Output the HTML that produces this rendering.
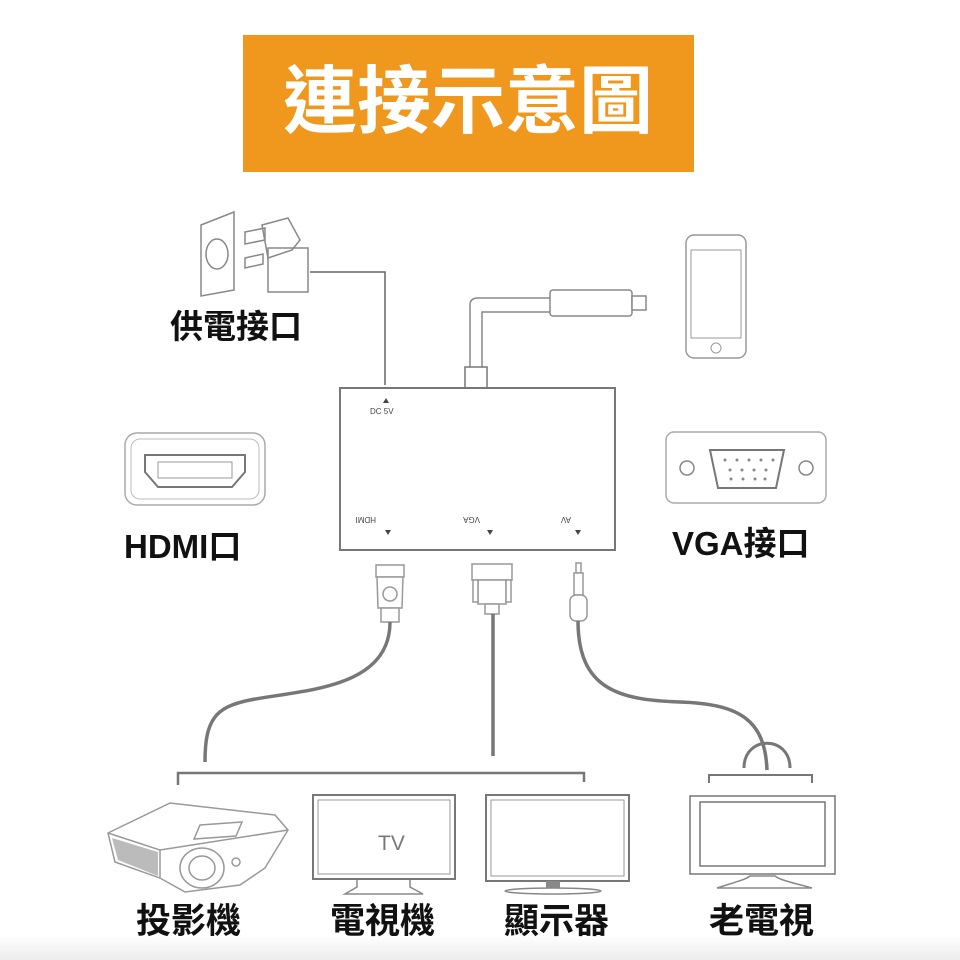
<!DOCTYPE html>
<html><head><meta charset="utf-8"><style>
html,body{margin:0;padding:0;background:#fff;}
svg{display:block}
.t{font-family:"Liberation Sans","Noto Sans CJK TC",sans-serif;font-weight:bold;fill:#111;}
</style></head><body>
<svg width="960" height="960" viewBox="0 0 960 960" xmlns="http://www.w3.org/2000/svg">
<defs><linearGradient id="g" x1="0" y1="0" x2="0" y2="1"><stop offset="0" stop-color="#fff"/><stop offset="1" stop-color="#ececec"/></linearGradient></defs>
<rect x="0" y="935" width="960" height="25" fill="url(#g)"/>
<rect x="243" y="35" width="451" height="137" fill="#F0981E"/>
<text x="468" y="127" text-anchor="middle" class="t" style="fill:#fff" font-size="74">連接示意圖</text>

<g fill="none" stroke="#888" stroke-width="1.5">
<polygon points="201,225 234,212 234,290 201,296"/>
<ellipse cx="217" cy="254" rx="11" ry="15"/>
<path d="M245,232 L265,228 L265,240 L245,244 Z M245,258 L263,254 L263,264 L245,268 Z"/>
<path d="M262,225 L288,218 L300,240 L292,250 L268,258 Z"/>
<rect x="268" y="248" width="40" height="44"/>
</g>
<polyline points="310,272 385,272 385,385" fill="none" stroke="#666" stroke-width="1.5"/>
<text x="170" y="338" class="t" font-size="33">供電接口</text>

<rect x="686" y="235" width="60" height="123" rx="8" fill="#fff" stroke="#999" stroke-width="1.5"/>
<rect x="691" y="250" width="50" height="88" fill="none" stroke="#999"/>
<circle cx="716" cy="348" r="5" fill="none" stroke="#999"/>
<path d="M470,370 L470,305 Q470,298 478,298 L550,298 M482,370 L482,312 L550,312" fill="none" stroke="#888" stroke-width="1.5"/>
<rect x="550" y="290" width="82" height="26" rx="3" fill="#fff" stroke="#888" stroke-width="1.5"/>
<rect x="632" y="296" width="14" height="14" fill="#fff" stroke="#888" stroke-width="1.5"/>
<rect x="465" y="367" width="22" height="22" fill="#fff" stroke="#777" stroke-width="1.5"/>

<rect x="340" y="388" width="275" height="162" fill="#fff" stroke="#777" stroke-width="2"/>
<g font-family="Liberation Sans,sans-serif" font-size="8" fill="#444">
<text x="370" y="414">DC 5V</text><path d="M383,403 l3,-5 l3,5z"/>
<text x="400" y="523" transform="rotate(180 388 520)">HDMI</text><path d="M385,530 l3,5 l3,-5z"/>
<text x="500" y="523" transform="rotate(180 490 520)">VGA</text><path d="M487,530 l3,5 l3,-5z"/>
<text x="585" y="523" transform="rotate(180 578 520)">AV</text><path d="M575,530 l3,5 l3,-5z"/>
</g>

<rect x="125" y="433" width="140" height="72" rx="12" fill="#fff" stroke="#aaa" stroke-width="1.5"/>
<rect x="131" y="439" width="128" height="60" rx="9" fill="none" stroke="#bbb"/>
<path d="M145,455 L245,455 L245,472 L232,487 L158,487 L145,472 Z" fill="none" stroke="#777" stroke-width="2"/>
<rect x="158" y="462" width="74" height="16" fill="none" stroke="#999"/>
<text x="124" y="558" class="t" font-size="33">HDMI口</text>

<rect x="666" y="432" width="160" height="71" rx="8" fill="#fff" stroke="#aaa" stroke-width="1.5"/>
<circle cx="687" cy="468" r="7" fill="none" stroke="#888" stroke-width="1.5"/>
<circle cx="806" cy="468" r="7" fill="none" stroke="#888" stroke-width="1.5"/>
<path d="M710,450 L784,450 L776,488 L718,488 Z" fill="none" stroke="#777" stroke-width="2"/>
<g fill="#888"><circle cx="725" cy="460" r="1.5"/><circle cx="737" cy="460" r="1.5"/><circle cx="749" cy="460" r="1.5"/><circle cx="761" cy="460" r="1.5"/><circle cx="773" cy="460" r="1.5"/><circle cx="730" cy="470" r="1.5"/><circle cx="742" cy="470" r="1.5"/><circle cx="754" cy="470" r="1.5"/><circle cx="766" cy="470" r="1.5"/><circle cx="731" cy="479" r="1.5"/><circle cx="743" cy="479" r="1.5"/><circle cx="755" cy="479" r="1.5"/><circle cx="765" cy="479" r="1.5"/></g>
<text x="672" y="555" class="t" font-size="33">VGA接口</text>

<g fill="#fff" stroke="#999" stroke-width="1.5">
<rect x="376" y="565" width="28" height="12"/>
<path d="M377,577 L403,577 L402,608 L378,608 Z"/>
<circle cx="390" cy="594" r="7"/>
<rect x="381" y="608" width="18" height="14"/>
<rect x="472" y="564" width="40" height="16"/>
<rect x="478" y="580" width="28" height="24"/>
<rect x="473" y="580" width="5" height="22"/><rect x="506" y="580" width="5" height="22"/>
<rect x="485" y="604" width="14" height="10"/>
<rect x="576" y="563" width="5" height="10"/>
<rect x="574" y="573" width="9" height="22"/>
<rect x="570" y="595" width="17" height="26" rx="6"/>
</g>
<g fill="none" stroke="#777" stroke-width="3.5">
<path d="M390,622 C390,690 300,690 250,700 C215,707 205,720 205,762"/>
<path d="M493,614 L493,756"/>
<path d="M578,621 C578,690 620,700 680,702 C740,704 765,720 767,770"/>
<path d="M744,768 C744,735 790,735 790,768" stroke-width="3"/>
</g>
<polyline points="178,785 178,773 584,773 584,782" fill="none" stroke="#777" stroke-width="2.5"/>
<polyline points="709,783 709,775 812,775 812,783" fill="none" stroke="#777" stroke-width="2"/>

<g fill="#fff" stroke="#999" stroke-width="1.5">
<path d="M108,833 L170,803 L275,815 L288,830 L265,868 L240,885 L185,892 L160,878 L115,862 Z"/>
<path d="M108,833 L160,850 L160,878"/>
<path d="M160,850 L288,830"/>
<polygon points="200,825 242,822 236,836 194,839"/>
<ellipse cx="202" cy="868" rx="22" ry="20"/>
<ellipse cx="202" cy="868" rx="13" ry="12"/>
<circle cx="236" cy="862" r="4"/>
</g>
<path d="M112,838 L158,852 L158,876 L118,860 Z" fill="#bbb"/>

<rect x="313" y="795" width="142" height="84" fill="#fff" stroke="#777" stroke-width="2"/>
<rect x="318" y="800" width="132" height="74" fill="none" stroke="#999"/>
<text x="378" y="850" font-family="Liberation Sans,sans-serif" font-size="21" fill="#777">TV</text>
<path d="M357,880 L357,887 L345,894 L423,894 L410,887 L410,880" fill="#fff" stroke="#888" stroke-width="1.5"/>
<rect x="486" y="795" width="143" height="86" fill="#fff" stroke="#777" stroke-width="2"/>
<rect x="491" y="800" width="133" height="76" fill="none" stroke="#999"/>
<rect x="546" y="881" width="14" height="8" fill="#888"/>
<ellipse cx="553" cy="891" rx="48" ry="3" fill="#fff" stroke="#888" stroke-width="1.5"/>
<rect x="690" y="796" width="145" height="78" fill="#fff" stroke="#777" stroke-width="1.5"/>
<rect x="700" y="802" width="125" height="64" fill="none" stroke="#777" stroke-width="1.5"/>
<path d="M717,888 C735,882 745,880 750,876 L775,876 C780,880 790,882 812,888 Z" fill="#fff" stroke="#888" stroke-width="1.5"/>

<text x="136" y="933" class="t" font-size="35">投影機</text>
<text x="330" y="933" class="t" font-size="35">電視機</text>
<text x="504" y="933" class="t" font-size="35">顯示器</text>
<text x="709" y="933" class="t" font-size="35">老電視</text>
</svg>
</body></html>
